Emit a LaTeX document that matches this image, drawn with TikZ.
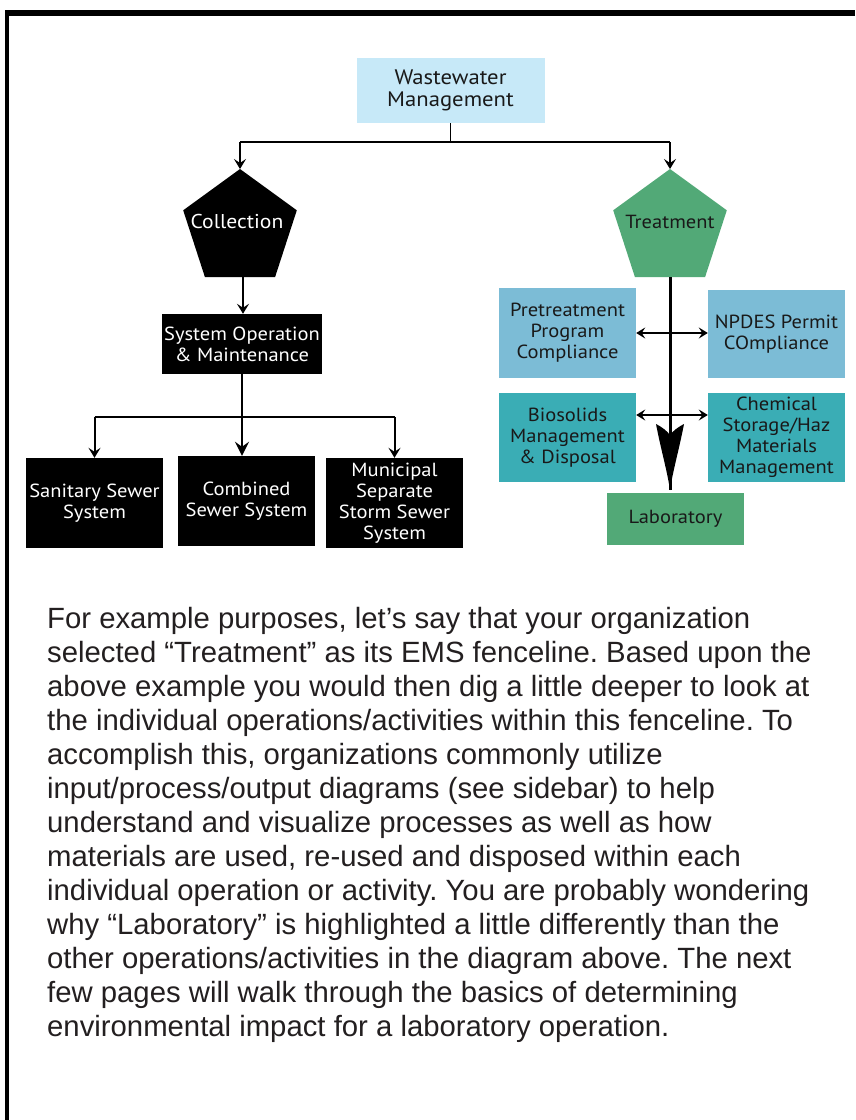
\documentclass[tikz,border=0pt]{standalone}
\usepackage{fontspec}
\setmainfont{Liberation Sans}
\newfontfamily\chartfont[FakeStretch=1.08]{PT Sans}
\usetikzlibrary{arrows.meta}

\definecolor{skyfill}{RGB}{199,233,248}
\definecolor{steelfill}{RGB}{124,188,214}
\definecolor{tealfill}{RGB}{58,173,181}
\definecolor{leaffill}{RGB}{82,169,119}
\definecolor{inkgray}{RGB}{35,31,32}
\definecolor{chartink}{RGB}{25,25,25}

\tikzset{
  box/.style={rectangle, inner sep=0pt, align=center,
    font=\chartfont\fontsize{19}{21}\selectfont},
  darkbox/.style={box, fill=black, text=white},
  skybox/.style={box, fill=skyfill, text=chartink},
  steelbox/.style={box, fill=steelfill, text=chartink},
  tealbox/.style={box, fill=tealfill, text=chartink},
  leafbox/.style={box, fill=leaffill, text=chartink},
  wire/.style={line width=1.5pt},
  feed/.style={line width=2pt, -{Stealth[length=10pt,width=12pt,inset=4pt]}},
  trunk/.style={line width=3pt},
  twoway/.style={line width=2pt,
    {Stealth[length=9pt,width=11pt,inset=3.5pt]}-{Stealth[length=9pt,width=11pt,inset=3.5pt]}},
  bodytext/.style={anchor=north west, inner sep=0pt, align=left, text=inkgray,
    font=\fontsize{29.3}{34}\selectfont}
}

\begin{document}
\frenchspacing
\begin{tikzpicture}[x=1pt,y=-1pt]
\useasboundingbox (0,0) rectangle (855,1120);
\fill[white] (0,0) rectangle (855,1120);

% page frame (top and left rules)
\fill[black] (5,10) rectangle (855,16);
\fill[black] (5,10) rectangle (8.5,1120);

% top of the tree
\node[skybox, minimum width=188, minimum height=65,
  font=\chartfont\fontsize{21}{22}\selectfont] (ww) at (450.5,90.5)
  {Wastewater\\Management};

% Collection pentagon
\fill[black] (240,169) -- (296.8,210.3) -- (275.1,277) -- (204.9,277) -- (183.2,210.3) -- cycle;
\coordinate (colltop) at (240,169);
\coordinate (collbot) at (243,277);
\node[box, text=white, font=\chartfont\fontsize{20}{21}\selectfont] (coll) at (237,221) {Collection};

% Treatment pentagon
\fill[leaffill] (670,169) -- (726.8,210.3) -- (705.1,277) -- (634.9,277) -- (613.2,210.3) -- cycle;
\coordinate (treattop) at (670,169);
\coordinate (treatbot) at (670,277);
\node[box, text=chartink] (treat) at (670,222) {Treatment};

% split from the top box
\coordinate (bus) at (450.5,142);
\draw[wire] (ww.south) -- (bus);
\draw[wire] (colltop |- bus) -- (treattop |- bus);
\draw[feed] (colltop |- bus) -- (colltop);
\draw[feed] (treattop |- bus) -- (treattop);

% Collection branch
\node[darkbox, minimum width=160, minimum height=60] (sysop) at (242,344)
  {System Operation\\\& Maintenance};
\draw[feed] (collbot) -- (collbot |- sysop.north);

\node[darkbox, minimum width=137, minimum height=90] (sanit) at (94.5,503)
  {Sanitary Sewer\\System};
\node[darkbox, minimum width=137, minimum height=90] (combo) at (246.5,501)
  {Combined\\Sewer System};
\node[darkbox, minimum width=137, minimum height=90] (munic) at (394.5,503)
  {Municipal\\Separate\\Storm Sewer\\System};

\coordinate (bus2) at (242,417);
\draw[wire] (sanit.north |- bus2) -- (munic.north |- bus2);
\draw[feed] (sanit.north |- bus2) -- (sanit.north);
\draw[feed] (munic.north |- bus2) -- (munic.north);
\draw[line width=2.5pt, -{Stealth[length=14pt,width=14pt,inset=5pt]}]
  (sysop.south) -- (sysop.south |- combo.north);

% Treatment branch
\node[steelbox, minimum width=137, minimum height=90] (pre) at (567.5,333)
  {Pretreatment\\Program\\Compliance};
\node[steelbox, minimum width=137, minimum height=88] (npdes) at (776.5,334)
  {NPDES Permit\\COmpliance};
\node[tealbox, minimum width=137, minimum height=89] (bio) at (567.5,437.5)
  {Biosolids\\Management\\\& Disposal};
\node[tealbox, minimum width=137, minimum height=89] (chem) at (776.5,437.5)
  {Chemical\\Storage/Haz\\Materials\\Management};
\node[leafbox, minimum width=137, minimum height=52] (lab) at (675.5,519)
  {Laboratory};

\coordinate (labin) at (670,490);
\draw[trunk] (treatbot) -- (labin);
% long barbed head at the foot of the trunk
\begin{scope}[shift={(labin)}]
  \fill[black] (0,0) .. controls (-3,-20) and (-9,-40) .. (-14,-66)
    .. controls (-8,-63) and (-3,-59) .. (0,-55)
    .. controls (3,-59) and (8,-63) .. (14,-66)
    .. controls (9,-40) and (3,-20) .. (0,0) -- cycle;
\end{scope}

\coordinate (row1) at (0,333);
\coordinate (row2) at (0,415);
\draw[twoway] (pre.east |- row1) -- (npdes.west |- row1);
\draw[twoway] (bio.east |- row2) -- (chem.west |- row2);

% explanatory paragraph
\node[bodytext] (para) at (47,607)
{For example purposes, let’s say that your organization\\
selected “Treatment” as its EMS fenceline. Based upon the\\
above example you would then dig a little deeper to look at\\
the individual operations/activities within this fenceline. To\\
accomplish this, organizations commonly utilize\\
input/process/output diagrams (see sidebar) to help\\
understand and visualize processes as well as how\\
materials are used, re-used and disposed within each\\
individual operation or activity. You are probably wondering\\
why “Laboratory” is highlighted a little differently than the\\
other operations/activities in the diagram above. The next\\
few pages will walk through the basics of determining\\
environmental impact for a laboratory operation.};
\end{tikzpicture}
\end{document}
